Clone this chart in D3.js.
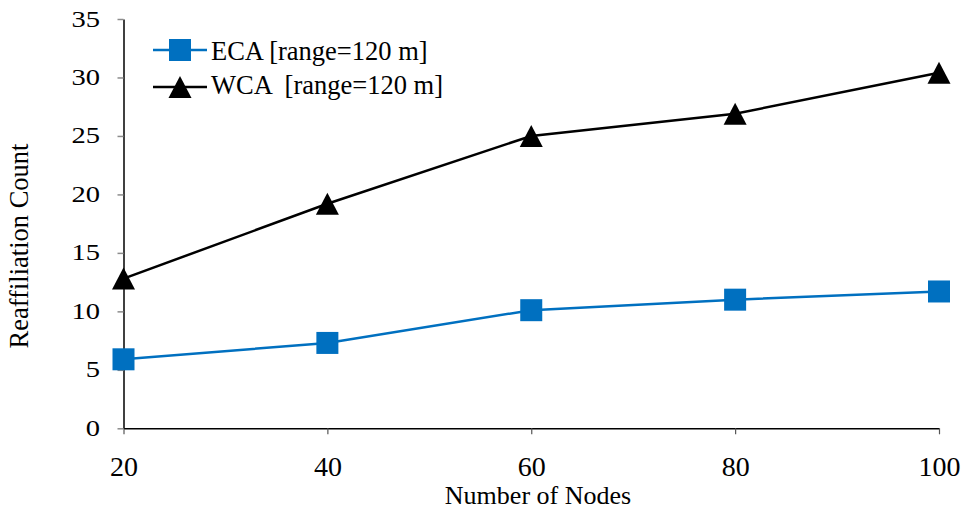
<!DOCTYPE html>
<html>
<head>
<meta charset="utf-8">
<script src="https://cdn.jsdelivr.net/npm/d3@7"></script>
<style>
  html, body { margin: 0; padding: 0; background: #fff; }
  svg { display: block; }
  text { font-family: "Liberation Serif", "Times New Roman", serif; fill: #000; }
</style>
</head>
<body>
<svg id="chart" width="962" height="510"></svg>
<script>
// Reaffiliation count versus network size for two clustering schemes
const nodes = [20, 40, 60, 80, 100];
const ecaCounts = [5.9, 7.3, 10.1, 11.0, 11.7];
const wcaCounts = [12.8, 19.2, 25.0, 26.9, 30.4];
const yTicks = [0, 5, 10, 15, 20, 25, 30, 35];
const seriesNames = ["ECA [range=120 m]", "WCA  [range=120 m]"];

const svg = d3.select("#chart");
const margin = { left: 123.5, right: 23, top: 19, bottom: 81.7 };
const W = 962, H = 510;

const x = d3.scaleLinear().domain([20, 100]).range([margin.left, W - margin.right]);
const y = d3.scaleLinear().domain([0, 35]).range([H - margin.bottom, margin.top]);

// Axes
const xAxis = svg.append("g")
  .attr("transform", `translate(0,${y(0)})`)
  .call(d3.axisBottom(x).tickValues(nodes).tickSize(6).tickSizeOuter(0));
const yAxis = svg.append("g")
  .attr("transform", `translate(${x(20)},0)`)
  .call(d3.axisLeft(y).tickValues(yTicks).tickSize(6).tickSizeOuter(0));

[xAxis, yAxis].forEach(g => {
  g.attr("font-family", null).attr("font-size", null);
  g.select(".domain").attr("stroke", "#000").attr("stroke-width", 1.5);
});
yAxis.selectAll(".tick line").attr("stroke", "#8c8c8c").attr("stroke-width", 1.5);
xAxis.selectAll(".tick line").attr("stroke", "#555").attr("stroke-width", 1.2);

// x tick labels
xAxis.selectAll(".tick text")
  .attr("font-size", 28).attr("fill", "#000")
  .attr("y", 47.5).attr("dy", 0);

// y tick labels, drawn with a wide set
const ySx = 1.27;
yAxis.selectAll(".tick text")
  .attr("font-size", 22.5).attr("fill", "#000")
  .attr("x", -23.5 / ySx).attr("dy", 7)
  .attr("transform", `scale(${ySx},1)`);

// Axis titles
svg.append("text")
  .attr("x", 538).attr("y", 503.5)
  .attr("text-anchor", "middle").attr("font-size", 26)
  .text("Number of Nodes");
svg.append("text")
  .attr("transform", "translate(28,246) rotate(-90)")
  .attr("text-anchor", "middle").attr("font-size", 26.5)
  .text("Reaffiliation Count");

// Series
const line = d3.line().x(d => x(d[0])).y(d => y(d[1]));
const eca = nodes.map((n, i) => [n, ecaCounts[i]]);
const wca = nodes.map((n, i) => [n, wcaCounts[i]]);

const blue = "#0070C0";
svg.append("path").datum(eca).attr("d", line)
  .attr("fill", "none").attr("stroke", blue).attr("stroke-width", 2.5);
svg.append("path").datum(wca).attr("d", line)
  .attr("fill", "none").attr("stroke", "#000").attr("stroke-width", 2.5);

const sq = 22;
svg.selectAll(".eca-pt").data(eca).join("rect")
  .attr("x", d => x(d[0]) - sq / 2).attr("y", d => y(d[1]) - sq / 2)
  .attr("width", sq).attr("height", sq).attr("fill", blue);

const tri = (cx, cy) => {
  const w = 23, h = 22;
  return `M${cx},${cy - h / 2}L${cx + w / 2},${cy + h / 2}L${cx - w / 2},${cy + h / 2}Z`;
};
svg.selectAll(".wca-pt").data(wca).join("path")
  .attr("d", d => tri(x(d[0]), y(d[1]))).attr("fill", "#000");

// Legend
const legend = svg.append("g");
const legendRows = [
  { name: seriesNames[0], color: blue, shape: "square", y: 50, base: 60 },
  { name: seriesNames[1], color: "#000", shape: "triangle", y: 87, base: 94 }
];
legendRows.forEach(r => {
  legend.append("line").attr("x1", 153).attr("x2", 207).attr("y1", r.y).attr("y2", r.y)
    .attr("stroke", r.color).attr("stroke-width", 2.5);
  if (r.shape === "square") {
    legend.append("rect").attr("x", 180 - sq / 2).attr("y", r.y - sq / 2)
      .attr("width", sq).attr("height", sq).attr("fill", r.color);
  } else {
    legend.append("path").attr("d", tri(180, r.y)).attr("fill", r.color);
  }
  legend.append("text").attr("x", 211).attr("y", r.base)
    .attr("font-size", 26.5).style("white-space", "pre")
    .text(r.name);
});
</script>
</body>
</html>
